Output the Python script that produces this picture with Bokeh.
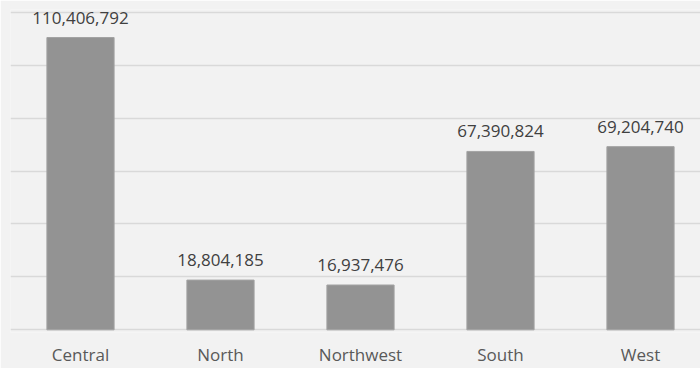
from bokeh.plotting import figure
from bokeh.models import ColumnDataSource, Range1d, FixedTicker, LabelSet
from bokeh.core.properties import value
from bokeh.embed import file_html
from bokeh.resources import INLINE

regions = ["Central", "North", "Northwest", "South", "West"]
totals = [110406792, 18804185, 16937476, 67390824, 69204740]
labels = [f"{v:,}" for v in totals]
idx = list(range(len(regions)))
grid_ticks = [0, 20_000_000, 40_000_000, 60_000_000, 80_000_000, 100_000_000, 120_000_000]

src = ColumnDataSource(dict(x=idx, top=totals, label=labels))

p = figure(width=700, height=368, output_backend="svg", toolbar_location=None,
           x_range=Range1d(-0.5, 4.5 - 10 / 140), y_range=Range1d(-1_000_000, 121_000_000),
           background_fill_color="#f2f2f2", border_fill_color="#f2f2f2",
           min_border_left=10, min_border_right=0, min_border_top=9, min_border_bottom=35)
p.outline_line_color = None

p.vbar(x="x", top="top", bottom=0, width=0.48, source=src, fill_color="#939393",
       line_color="#a3a3a3", line_width=1)

p.add_layout(LabelSet(x="x", y="top", text="label", source=src, text_align="center",
                      text_baseline="bottom", y_offset=14, text_font=value("Open Sans"),
                      text_font_size="17px", text_color="#404040"))

p.yaxis.visible = False
p.yaxis.ticker = FixedTicker(ticks=grid_ticks)
p.ygrid.ticker = FixedTicker(ticks=grid_ticks)
p.ygrid.grid_line_color = "#d9d9d9"
p.ygrid.grid_line_width = 1.5
p.xgrid.visible = False

p.xaxis.ticker = FixedTicker(ticks=idx)
p.xaxis.major_label_overrides = {i: r for i, r in zip(idx, regions)}
p.xaxis.axis_line_color = None
p.xaxis.major_tick_line_color = None
p.xaxis.minor_tick_line_color = None
p.xaxis.major_tick_in = 0
p.xaxis.major_tick_out = 0
p.xaxis.major_label_text_font = "Open Sans"
p.xaxis.major_label_text_font_size = "17px"
p.xaxis.major_label_text_color = "#595959"
p.xaxis.major_label_standoff = 10

open("out.html", "w").write(file_html(p, INLINE))
